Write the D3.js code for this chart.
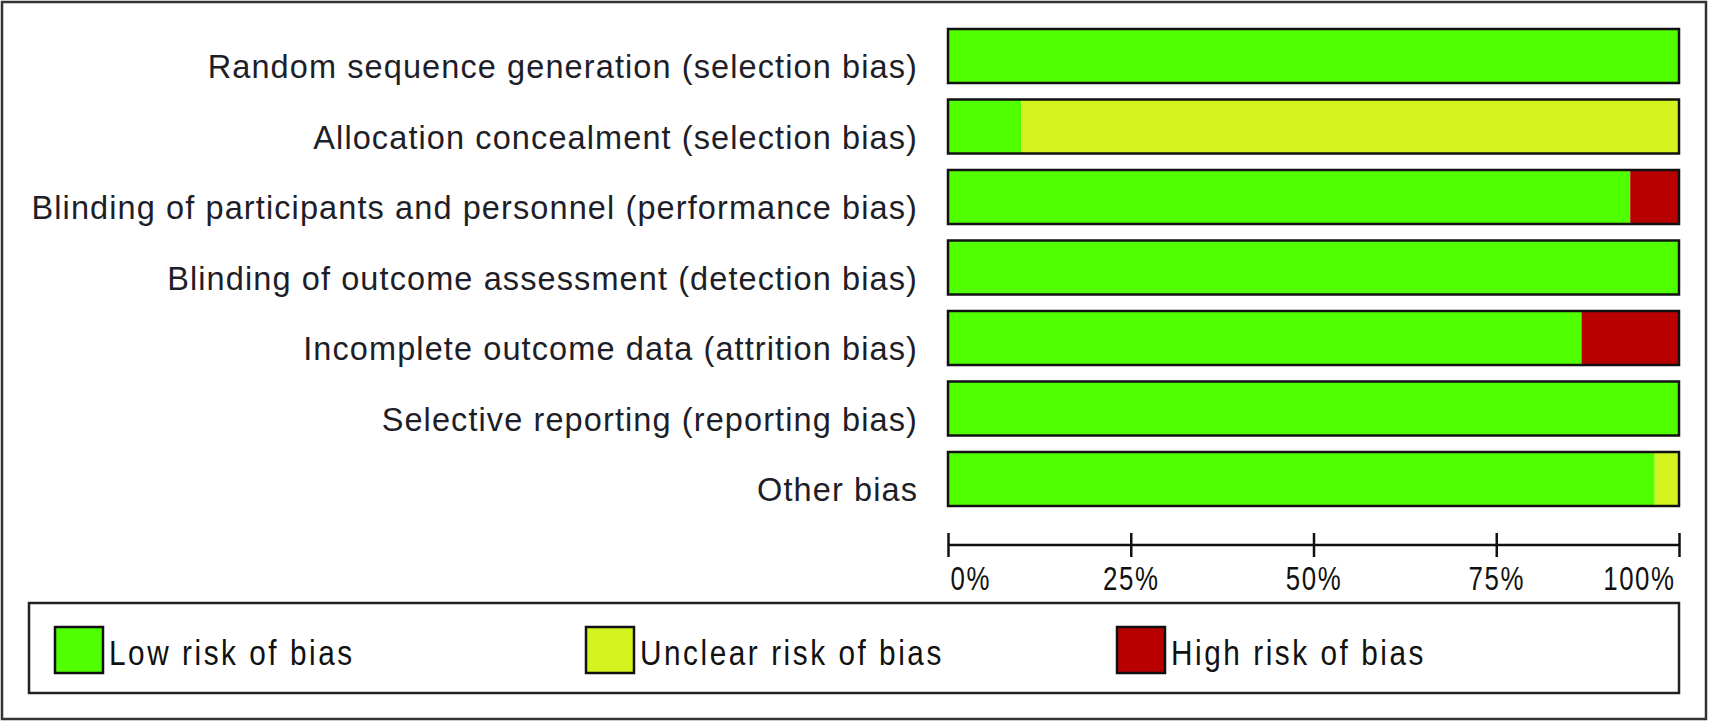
<html>
<head>
<script src="https://d3js.org/d3.v7.min.js"></script>
<style>
  body { margin: 0; background: #fff; }
  text { font-family: "Liberation Sans", Arial, sans-serif; }
</style>
</head>
<body>
<svg id="chart" width="1709" height="722"></svg>
<script>
const domains = [
  "Random sequence generation (selection bias)",
  "Allocation concealment (selection bias)",
  "Blinding of participants and personnel (performance bias)",
  "Blinding of outcome assessment (detection bias)",
  "Incomplete outcome data (attrition bias)",
  "Selective reporting (reporting bias)",
  "Other bias"
];
// percent of studies per judgement
const lowRisk     = [100, 10, 93.33, 100, 86.67, 100, 96.67];
const unclearRisk = [0, 90, 0, 0, 0, 0, 3.33];
const highRisk    = [0, 0, 6.67, 0, 13.33, 0, 0];
const tickValues  = [0, 25, 50, 75, 100];
const legendLabels = ["Low risk of bias", "Unclear risk of bias", "High risk of bias"];
const keys = ["low", "unclear", "high"];
const colors = {low: "#50ff00", unclear: "#d4f31f", high: "#b80000"};

const svg = d3.select("#chart");

// outer frame
svg.append("rect")
  .attr("x", 2).attr("y", 2).attr("width", 1704).attr("height", 717)
  .attr("fill", "none").attr("stroke", "#333").attr("stroke-width", 2.5);

const x = d3.scaleLinear().domain([0, 100]).range([948, 1679]);
const y = d3.scaleBand()
  .domain(domains)
  .range([20.75, 514.25])
  .paddingInner(0.234)
  .paddingOuter(0.117);

const table = domains.map((d, i) => ({domain: d, low: lowRisk[i], unclear: unclearRisk[i], high: highRisk[i]}));
const series = d3.stack().keys(keys)(table);

const bars = svg.append("g");
bars.selectAll("g")
  .data(series)
  .enter().append("g")
    .attr("fill", d => colors[d.key])
  .selectAll("rect")
  .data(d => d)
  .enter().append("rect")
    .attr("x", d => x(d[0]))
    .attr("y", d => y(d.data.domain))
    .attr("width", d => x(d[1]) - x(d[0]))
    .attr("height", y.bandwidth());

// outline round each whole bar
bars.selectAll(".outline")
  .data(domains)
  .enter().append("rect")
    .attr("class", "outline")
    .attr("x", x(0))
    .attr("y", d => y(d))
    .attr("width", x(100) - x(0))
    .attr("height", y.bandwidth())
    .attr("fill", "none")
    .attr("stroke", "#111")
    .attr("stroke-width", 2.5);

// category labels
svg.append("g").selectAll("text")
  .data(domains)
  .enter().append("text")
    .attr("x", 918)
    .attr("y", d => y(d) + y.bandwidth() - 5)
    .attr("text-anchor", "end")
    .attr("fill", "#1e1e28")
    .style("font-size", "32.5px")
    .style("letter-spacing", "1.1px")
    .text(d => d);

// axis
const axisY = 545;
const axis = svg.append("g")
  .attr("transform", "translate(0," + axisY + ")")
  .call(d3.axisBottom(x).tickValues(tickValues).tickSize(12).tickFormat(d => d + "%"));
axis.select(".domain")
  .attr("d", "M" + x(0) + ",0H" + x(100))
  .attr("stroke", "#111").attr("stroke-width", 2.5);
axis.selectAll(".tick line")
  .attr("y1", -12).attr("y2", 12)
  .attr("stroke", "#111").attr("stroke-width", 2.5);
axis.selectAll(".tick text")
  .attr("y", 0)
  .attr("dy", 0)
  .attr("fill", "#111")
  .attr("text-anchor", (d, i) => i === 0 ? "start" : (i === tickValues.length - 1 ? "end" : "middle"))
  .attr("transform", (d, i) => "translate(" + (i === 0 ? 2 : (i === tickValues.length - 1 ? -4 : 0)) + ",45) scale(0.76,1)")
  .style("font-size", "34px")
  .style("letter-spacing", "2px");

// legend
const legend = svg.append("g");
legend.append("rect")
  .attr("x", 29).attr("y", 603).attr("width", 1650).attr("height", 90)
  .attr("fill", "none").attr("stroke", "#222").attr("stroke-width", 2.5);

const item = legend.selectAll(".item")
  .data(keys)
  .enter().append("g")
    .attr("class", "item")
    .attr("transform", (d, i) => "translate(" + (55 + i * 531) + ",627)");
item.append("rect")
  .attr("width", 48).attr("height", 46)
  .attr("fill", d => colors[d])
  .attr("stroke", "#111").attr("stroke-width", 2.5);
item.append("text")
  .attr("transform", "translate(54,38) scale(0.85,1)")
  .attr("fill", "#111")
  .style("font-size", "35px")
  .style("letter-spacing", "3px")
  .text((d, i) => legendLabels[i]);
</script>
</body>
</html>
